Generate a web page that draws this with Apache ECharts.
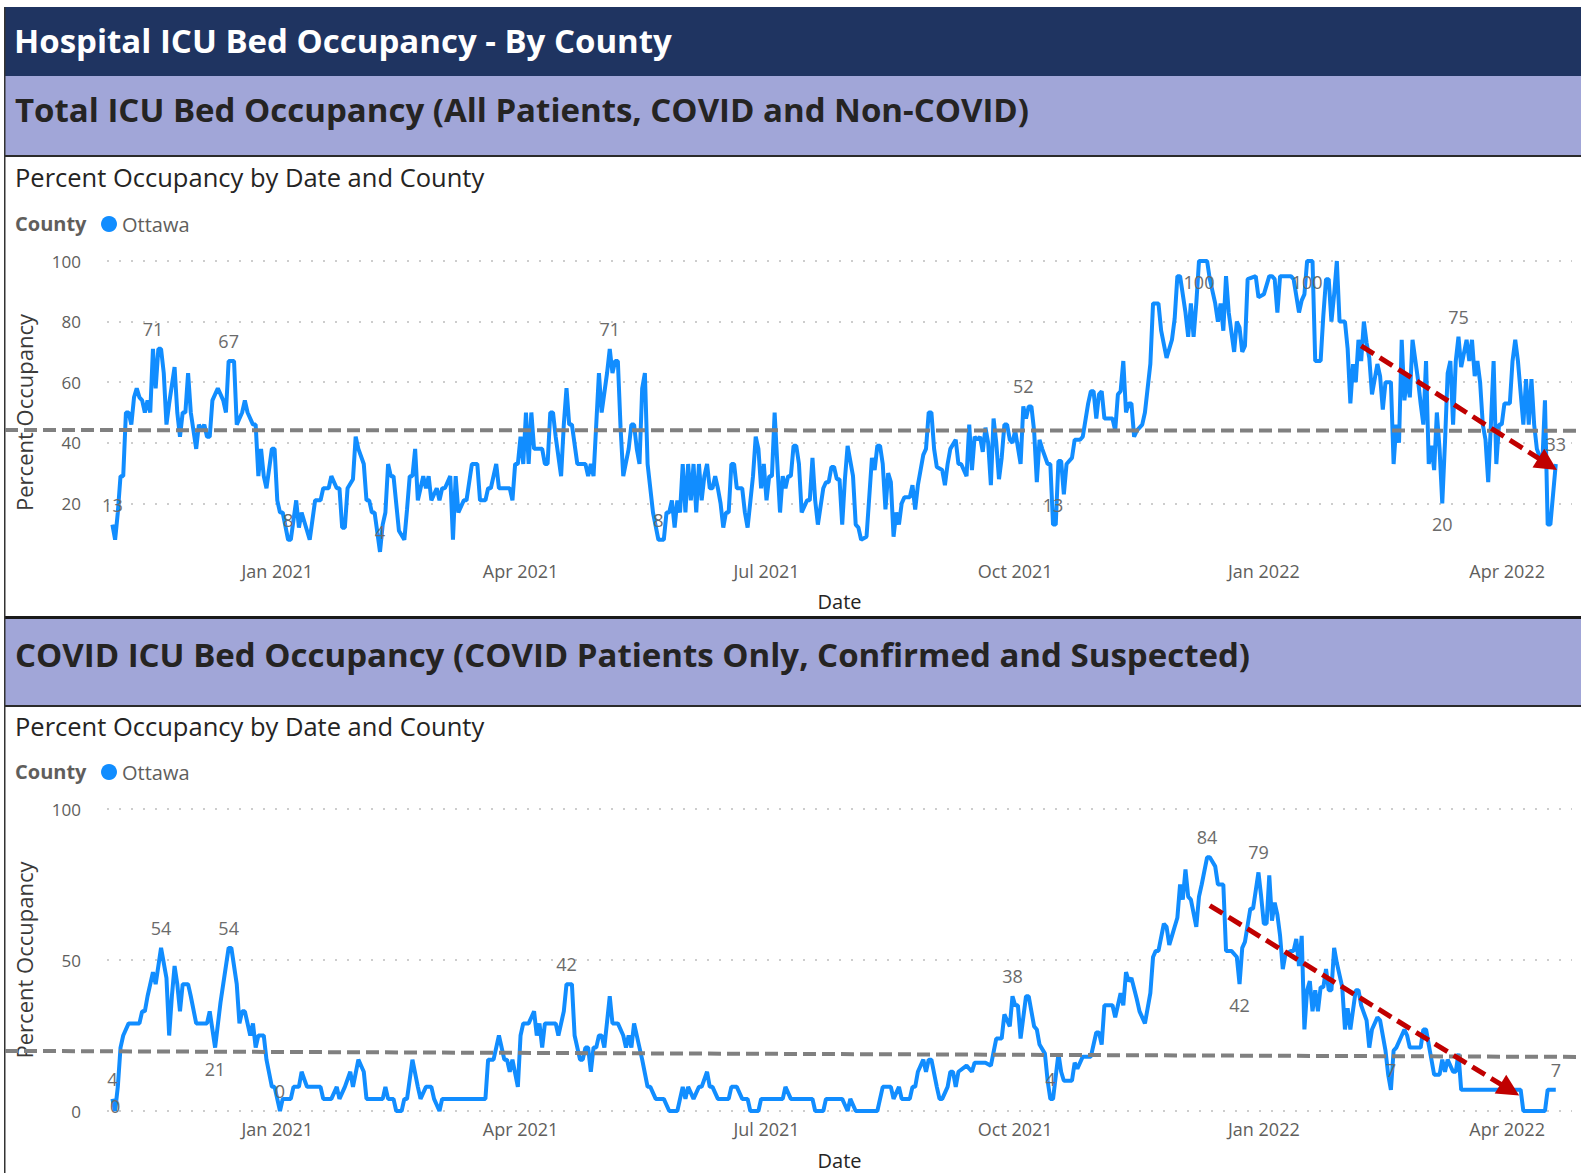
<!DOCTYPE html>
<html>
<head>
<meta charset="utf-8">
<title>Hospital ICU Bed Occupancy - By County</title>
<script src="https://cdn.jsdelivr.net/npm/echarts@6.0.0/dist/echarts.min.js"></script>
<style>
  html, body { margin: 0; padding: 0; background: #fff; }
  #chart { width: 1581px; height: 1173px; }
</style>
</head>
<body>
<div id="chart"></div>
<script>
// x axis: quarter ticks and visible range
const tickDates = ['2021-01-01', '2021-04-01', '2021-07-01', '2021-10-01', '2022-01-01', '2022-04-01'];
const tickLabels = ['Jan 2021', 'Apr 2021', 'Jul 2021', 'Oct 2021', 'Jan 2022', 'Apr 2022'];
const axisStart = '2020-10-30';
const axisEnd = '2022-04-25';

// Total ICU occupancy (%), Ottawa
const totalOccupancy = [
  ['2020-11-01',13],['2020-11-02',8],['2020-11-03',17],['2020-11-04',29],['2020-11-05',29],['2020-11-06',50],['2020-11-07',50],['2020-11-08',46],['2020-11-09',55],['2020-11-10',58],['2020-11-11',55],['2020-11-12',54],['2020-11-13',50],['2020-11-14',54],['2020-11-15',50],['2020-11-16',71],['2020-11-17',58],['2020-11-18',71],['2020-11-19',71],['2020-11-20',63],['2020-11-21',46],['2020-11-22',53],['2020-11-24',65],['2020-11-25',50],['2020-11-26',42],['2020-11-27',50],['2020-11-28',50],['2020-11-29',63],['2020-11-30',50],
  ['2020-12-02',38],['2020-12-03',46],['2020-12-04',44],['2020-12-05',46],['2020-12-06',42],['2020-12-07',42],['2020-12-08',54],['2020-12-10',58],['2020-12-12',54],['2020-12-13',50],['2020-12-14',67],['2020-12-16',67],['2020-12-17',46],['2020-12-19',50],['2020-12-20',54],['2020-12-21',50],['2020-12-23',46],['2020-12-24',46],['2020-12-25',29],['2020-12-26',38],['2020-12-27',29],['2020-12-28',25],['2020-12-30',38],['2020-12-31',38],
  ['2021-01-01',21],['2021-01-02',17],['2021-01-03',17],['2021-01-05',8],['2021-01-06',8],['2021-01-08',21],['2021-01-09',12],['2021-01-10',17],['2021-01-13',8],['2021-01-15',21],['2021-01-17',21],['2021-01-18',25],['2021-01-20',25],['2021-01-21',29],['2021-01-23',25],['2021-01-24',25],['2021-01-25',12],['2021-01-26',12],['2021-01-27',25],['2021-01-29',28],['2021-01-30',42],['2021-01-31',38],
  ['2021-02-02',33],['2021-02-03',21],['2021-02-04',21],['2021-02-05',17],['2021-02-06',17],['2021-02-08',4],['2021-02-09',13],['2021-02-10',17],['2021-02-11',33],['2021-02-12',29],['2021-02-13',29],['2021-02-15',11],['2021-02-17',8],['2021-02-18',18],['2021-02-19',29],['2021-02-20',29],['2021-02-21',38],['2021-02-22',21],['2021-02-23',25],['2021-02-24',29],['2021-02-25',25],['2021-02-26',29],['2021-02-27',21],
  ['2021-03-01',25],['2021-03-02',21],['2021-03-03',25],['2021-03-04',25],['2021-03-06',29],['2021-03-07',8],['2021-03-08',29],['2021-03-09',17],['2021-03-11',21],['2021-03-12',21],['2021-03-14',33],['2021-03-16',33],['2021-03-17',21],['2021-03-19',21],['2021-03-20',25],['2021-03-21',25],['2021-03-23',33],['2021-03-24',25],['2021-03-26',25],['2021-03-28',25],['2021-03-29',21],['2021-03-30',33],['2021-03-31',33],
  ['2021-04-01',42],['2021-04-02',33],['2021-04-03',50],['2021-04-04',33],['2021-04-05',50],['2021-04-06',38],['2021-04-07',38],['2021-04-09',38],['2021-04-10',33],['2021-04-11',33],['2021-04-12',50],['2021-04-13',50],['2021-04-14',42],['2021-04-16',29],['2021-04-17',46],['2021-04-18',58],['2021-04-19',46],['2021-04-20',46],['2021-04-22',33],['2021-04-25',33],['2021-04-26',29],['2021-04-27',33],['2021-04-28',29],['2021-04-30',63],
  ['2021-05-01',50],['2021-05-03',63],['2021-05-04',71],['2021-05-05',63],['2021-05-06',67],['2021-05-07',67],['2021-05-08',45],['2021-05-09',29],['2021-05-11',38],['2021-05-12',46],['2021-05-13',46],['2021-05-14',38],['2021-05-15',33],['2021-05-16',58],['2021-05-17',63],['2021-05-18',33],['2021-05-20',17],['2021-05-22',8],['2021-05-24',8],['2021-05-25',17],['2021-05-26',17],['2021-05-27',21],['2021-05-28',12],['2021-05-29',21],['2021-05-30',17],['2021-05-31',33],
  ['2021-06-01',17],['2021-06-02',33],['2021-06-03',21],['2021-06-04',33],['2021-06-05',17],['2021-06-06',33],['2021-06-07',21],['2021-06-08',29],['2021-06-09',33],['2021-06-10',25],['2021-06-11',25],['2021-06-12',29],['2021-06-13',25],['2021-06-14',20],['2021-06-15',12],['2021-06-16',17],['2021-06-17',17],['2021-06-18',33],['2021-06-19',33],['2021-06-20',25],['2021-06-22',25],['2021-06-23',17],['2021-06-24',12],['2021-06-26',29],['2021-06-27',42],['2021-06-28',38],['2021-06-29',25],['2021-06-30',33],
  ['2021-07-01',21],['2021-07-02',29],['2021-07-03',29],['2021-07-04',50],['2021-07-05',33],['2021-07-06',17],['2021-07-07',29],['2021-07-08',25],['2021-07-09',29],['2021-07-10',29],['2021-07-11',39],['2021-07-12',39],['2021-07-13',33],['2021-07-14',17],['2021-07-16',21],['2021-07-17',21],['2021-07-18',35],['2021-07-19',21],['2021-07-20',13],['2021-07-22',25],['2021-07-23',27],['2021-07-24',27],['2021-07-25',32],['2021-07-26',32],['2021-07-27',28],['2021-07-28',28],['2021-07-29',13],['2021-07-30',28],['2021-07-31',39],
  ['2021-08-02',29],['2021-08-03',13],['2021-08-04',12],['2021-08-05',8],['2021-08-07',9],['2021-08-08',22],['2021-08-09',35],['2021-08-10',31],['2021-08-11',39],['2021-08-12',39],['2021-08-13',33],['2021-08-14',18],['2021-08-15',30],['2021-08-16',27],['2021-08-17',9],['2021-08-18',17],['2021-08-19',13],['2021-08-20',20],['2021-08-21',22],['2021-08-23',22],['2021-08-24',26],['2021-08-25',18],['2021-08-26',26],['2021-08-28',36],['2021-08-29',38],['2021-08-30',50],['2021-08-31',50],
  ['2021-09-01',38],['2021-09-02',32],['2021-09-04',31],['2021-09-05',26],['2021-09-06',33],['2021-09-07',38],['2021-09-09',41],['2021-09-10',33],['2021-09-11',33],['2021-09-13',29],['2021-09-14',46],['2021-09-15',31],['2021-09-16',42],['2021-09-17',41],['2021-09-18',42],['2021-09-19',37],['2021-09-20',45],['2021-09-21',40],['2021-09-22',26],['2021-09-23',48],['2021-09-24',40],['2021-09-25',28],['2021-09-26',35],['2021-09-27',46],['2021-09-28',46],['2021-09-29',41],['2021-09-30',40],
  ['2021-10-01',44],['2021-10-03',33],['2021-10-04',52],['2021-10-05',48],['2021-10-06',52],['2021-10-07',52],['2021-10-08',44],['2021-10-09',27],['2021-10-10',41],['2021-10-11',38],['2021-10-13',33],['2021-10-14',33],['2021-10-15',13],['2021-10-16',13],['2021-10-17',34],['2021-10-18',34],['2021-10-19',23],['2021-10-20',33],['2021-10-22',35],['2021-10-23',41],['2021-10-25',41],['2021-10-26',42],['2021-10-28',53],['2021-10-29',57],['2021-10-30',57],['2021-10-31',48],
  ['2021-11-01',56],['2021-11-02',57],['2021-11-03',48],['2021-11-05',48],['2021-11-06',48],['2021-11-07',44],['2021-11-08',56],['2021-11-09',57],['2021-11-10',67],['2021-11-11',50],['2021-11-12',53],['2021-11-13',53],['2021-11-14',42],['2021-11-15',44],['2021-11-17',46],['2021-11-18',50],['2021-11-20',66],['2021-11-21',86],['2021-11-23',86],['2021-11-24',77],['2021-11-26',68],['2021-11-28',74],['2021-11-29',81],['2021-11-30',95],
  ['2021-12-01',95],['2021-12-03',83],['2021-12-04',75],['2021-12-05',86],['2021-12-06',75],['2021-12-07',86],['2021-12-08',100],['2021-12-11',100],['2021-12-12',94],['2021-12-14',86],['2021-12-15',80],['2021-12-16',86],['2021-12-17',77],['2021-12-18',95],['2021-12-19',83],['2021-12-21',70],['2021-12-22',80],['2021-12-23',78],['2021-12-24',70],['2021-12-25',72],['2021-12-26',94],['2021-12-29',95],['2021-12-30',88],
  ['2022-01-01',89],['2022-01-03',95],['2022-01-04',95],['2022-01-05',94],['2022-01-06',83],['2022-01-07',95],['2022-01-08',95],['2022-01-11',95],['2022-01-12',94],['2022-01-14',83],['2022-01-15',87],['2022-01-16',89],['2022-01-17',100],['2022-01-19',100],['2022-01-20',67],['2022-01-22',67],['2022-01-23',82],['2022-01-24',94],['2022-01-25',94],['2022-01-26',80],['2022-01-27',89],['2022-01-28',100],['2022-01-29',80],['2022-01-31',80],
  ['2022-02-01',71],['2022-02-02',53],['2022-02-03',66],['2022-02-04',60],['2022-02-05',74],['2022-02-06',67],['2022-02-07',80],['2022-02-08',73],['2022-02-09',68],['2022-02-10',56],['2022-02-12',66],['2022-02-13',62],['2022-02-14',51],['2022-02-15',60],['2022-02-17',60],['2022-02-18',33],['2022-02-19',46],['2022-02-20',40],['2022-02-21',74],['2022-02-22',54],['2022-02-23',62],['2022-02-24',55],['2022-02-25',74],['2022-02-27',61],['2022-02-28',53],
  ['2022-03-01',46],['2022-03-02',67],['2022-03-03',33],['2022-03-04',39],['2022-03-05',31],['2022-03-06',50],['2022-03-07',38],['2022-03-08',20],['2022-03-09',40],['2022-03-10',63],['2022-03-11',67],['2022-03-12',46],['2022-03-13',67],['2022-03-14',75],['2022-03-15',65],['2022-03-17',74],['2022-03-18',67],['2022-03-19',74],['2022-03-20',62],['2022-03-21',67],['2022-03-22',60],['2022-03-23',46],['2022-03-24',41],['2022-03-25',27],['2022-03-26',46],['2022-03-27',67],['2022-03-28',33],['2022-03-29',46],['2022-03-30',46],['2022-03-31',53],
  ['2022-04-02',53],['2022-04-03',67],['2022-04-04',74],['2022-04-05',67],['2022-04-07',46],['2022-04-08',61],['2022-04-09',46],['2022-04-10',61],['2022-04-11',46],['2022-04-12',38],['2022-04-14',33],['2022-04-15',54],['2022-04-16',13],['2022-04-17',13],['2022-04-19',33]
];

// COVID ICU occupancy (%), Ottawa
const covidOccupancy = [
  ['2020-11-01',4],['2020-11-02',0],['2020-11-03',8],['2020-11-04',21],['2020-11-05',25],['2020-11-07',29],['2020-11-11',29],['2020-11-12',33],['2020-11-13',33],['2020-11-14',38],['2020-11-16',46],['2020-11-17',42],['2020-11-19',54],['2020-11-21',44],['2020-11-22',25],['2020-11-23',38],['2020-11-24',48],['2020-11-25',42],['2020-11-26',33],['2020-11-27',42],['2020-11-29',42],['2020-11-30',38],
  ['2020-12-02',29],['2020-12-06',29],['2020-12-07',33],['2020-12-09',21],['2020-12-11',36],['2020-12-12',42],['2020-12-14',54],['2020-12-15',54],['2020-12-17',42],['2020-12-18',29],['2020-12-19',33],['2020-12-20',33],['2020-12-22',25],['2020-12-23',29],['2020-12-24',21],['2020-12-25',25],['2020-12-27',25],['2020-12-28',17],['2020-12-30',8],['2020-12-31',8],
  ['2021-01-02',0],['2021-01-03',4],['2021-01-06',4],['2021-01-07',8],['2021-01-09',8],['2021-01-10',13],['2021-01-12',8],['2021-01-17',8],['2021-01-18',4],['2021-01-21',4],['2021-01-23',8],['2021-01-24',4],['2021-01-26',8],['2021-01-28',13],['2021-01-29',8],['2021-01-31',17],
  ['2021-02-02',13],['2021-02-03',4],['2021-02-09',4],['2021-02-10',8],['2021-02-11',4],['2021-02-13',4],['2021-02-14',0],['2021-02-16',0],['2021-02-17',4],['2021-02-18',4],['2021-02-20',17],['2021-02-22',8],['2021-02-23',4],['2021-02-25',8],['2021-02-27',8],['2021-02-28',4],
  ['2021-03-02',0],['2021-03-03',4],['2021-03-19',4],['2021-03-20',17],['2021-03-22',17],['2021-03-23',21],['2021-03-24',25],['2021-03-26',17],['2021-03-27',17],['2021-03-28',13],['2021-03-29',17],['2021-03-31',8],
  ['2021-04-01',25],['2021-04-02',29],['2021-04-04',29],['2021-04-06',33],['2021-04-07',25],['2021-04-08',29],['2021-04-09',21],['2021-04-10',29],['2021-04-14',29],['2021-04-15',25],['2021-04-17',33],['2021-04-18',42],['2021-04-20',42],['2021-04-21',25],['2021-04-23',17],['2021-04-24',17],['2021-04-25',21],['2021-04-26',21],['2021-04-27',13],['2021-04-28',21],['2021-04-29',21],['2021-04-30',25],
  ['2021-05-01',25],['2021-05-02',21],['2021-05-04',38],['2021-05-05',29],['2021-05-07',29],['2021-05-09',25],['2021-05-10',21],['2021-05-11',25],['2021-05-12',21],['2021-05-13',29],['2021-05-15',21],['2021-05-16',17],['2021-05-18',8],['2021-05-19',8],['2021-05-21',4],['2021-05-24',4],['2021-05-26',0],['2021-05-29',0],['2021-05-30',4],['2021-05-31',8],
  ['2021-06-01',4],['2021-06-02',8],['2021-06-04',4],['2021-06-06',8],['2021-06-07',8],['2021-06-09',13],['2021-06-10',8],['2021-06-11',8],['2021-06-13',4],['2021-06-17',4],['2021-06-18',8],['2021-06-20',8],['2021-06-22',4],['2021-06-24',4],['2021-06-25',0],['2021-06-28',0],['2021-06-29',4],
  ['2021-07-07',4],['2021-07-08',8],['2021-07-10',4],['2021-07-18',4],['2021-07-19',0],['2021-07-22',0],['2021-07-23',4],['2021-07-29',4],['2021-07-31',0],
  ['2021-08-01',4],['2021-08-03',0],['2021-08-11',0],['2021-08-13',8],['2021-08-16',8],['2021-08-17',4],['2021-08-19',8],['2021-08-20',4],['2021-08-23',4],['2021-08-24',8],['2021-08-25',8],['2021-08-26',13],['2021-08-28',17],['2021-08-29',13],['2021-08-30',17],['2021-08-31',17],
  ['2021-09-02',8],['2021-09-03',4],['2021-09-04',4],['2021-09-06',8],['2021-09-07',13],['2021-09-08',13],['2021-09-09',8],['2021-09-10',13],['2021-09-13',15],['2021-09-15',13],['2021-09-16',16],['2021-09-18',16],['2021-09-20',16],['2021-09-22',15],['2021-09-24',24],['2021-09-26',24],['2021-09-27',32],['2021-09-29',28],['2021-09-30',38],
  ['2021-10-01',35],['2021-10-02',35],['2021-10-03',24],['2021-10-05',38],['2021-10-06',38],['2021-10-08',28],['2021-10-09',27],['2021-10-10',22],['2021-10-12',19],['2021-10-13',10],['2021-10-14',4],['2021-10-15',4],['2021-10-17',19],['2021-10-18',13],['2021-10-19',10],['2021-10-22',10],['2021-10-23',16],['2021-10-24',14],['2021-10-26',18],['2021-10-28',18],['2021-10-29',18],['2021-10-30',22],['2021-10-31',26],
  ['2021-11-01',26],['2021-11-02',22],['2021-11-03',35],['2021-11-05',35],['2021-11-06',35],['2021-11-07',31],['2021-11-08',35],['2021-11-09',39],['2021-11-10',35],['2021-11-11',46],['2021-11-12',43],['2021-11-13',44],['2021-11-15',37],['2021-11-16',33],['2021-11-17',31],['2021-11-18',29],['2021-11-20',39],['2021-11-21',51],['2021-11-22',53],['2021-11-23',53],['2021-11-25',62],['2021-11-26',61],['2021-11-27',55],['2021-11-28',58],['2021-11-29',61],['2021-11-30',64],
  ['2021-12-01',75],['2021-12-02',70],['2021-12-03',80],['2021-12-04',71],['2021-12-05',70],['2021-12-07',61],['2021-12-08',71],['2021-12-09',75],['2021-12-11',84],['2021-12-12',84],['2021-12-14',81],['2021-12-15',75],['2021-12-17',75],['2021-12-18',53],['2021-12-20',53],['2021-12-22',51],['2021-12-23',42],['2021-12-24',54],['2021-12-25',56],['2021-12-27',67],['2021-12-28',67],['2021-12-29',73],['2021-12-30',79],['2021-12-31',71],
  ['2022-01-01',62],['2022-01-02',62],['2022-01-03',78],['2022-01-04',63],['2022-01-05',69],['2022-01-06',65],['2022-01-07',58],['2022-01-08',47],['2022-01-09',52],['2022-01-11',53],['2022-01-12',53],['2022-01-13',57],['2022-01-14',48],['2022-01-15',58],['2022-01-16',27],['2022-01-17',40],['2022-01-18',43],['2022-01-19',33],['2022-01-20',40],['2022-01-21',33],['2022-01-22',41],['2022-01-23',41],['2022-01-24',47],['2022-01-25',40],['2022-01-26',40],['2022-01-27',54],['2022-01-28',49],['2022-01-30',41],['2022-01-31',27],
  ['2022-02-01',34],['2022-02-02',27],['2022-02-04',40],['2022-02-05',40],['2022-02-06',35],['2022-02-08',30],['2022-02-09',21],['2022-02-10',27],['2022-02-12',31],['2022-02-13',30],['2022-02-15',20],['2022-02-16',12],['2022-02-17',7],['2022-02-18',20],['2022-02-19',21],['2022-02-21',25],['2022-02-22',27],['2022-02-23',25],['2022-02-24',21],['2022-02-26',21],['2022-02-28',21],
  ['2022-03-01',27],['2022-03-02',27],['2022-03-03',22],['2022-03-05',12],['2022-03-07',12],['2022-03-08',17],['2022-03-09',13],['2022-03-10',17],['2022-03-12',13],['2022-03-13',13],['2022-03-14',19],['2022-03-15',7],
  ['2022-04-06',7],['2022-04-07',0],['2022-04-15',0],['2022-04-16',7],['2022-04-19',7]
];

// dates whose values carry a data label
const totalLabelDates = ['2020-11-01', '2020-11-16', '2020-12-14', '2021-01-05', '2021-02-08', '2021-05-04', '2021-05-22',
  '2021-10-04', '2021-10-15', '2021-12-08', '2022-01-17', '2022-03-08', '2022-03-14', '2022-04-19'];
const covidLabelDates = ['2020-11-01', '2020-11-02', '2020-11-19', '2020-12-09', '2020-12-14', '2021-01-02', '2021-04-18',
  '2021-09-30', '2021-10-14', '2021-12-11', '2021-12-23', '2021-12-30', '2022-02-17', '2022-04-19'];

// annotations: dashed reference line (value at left and right edge) and red trend arrows
const totalRefLine = [44.2, 44.0];
const covidRefLine = [19.9, 17.9];
const totalTrendArrow = [['2022-02-06', 72], ['2022-04-16', 33]];
const covidTrendArrow = [['2021-12-12', 68], ['2022-04-02', 7]];

const FONT = "'Segoe UI', 'Open Sans', sans-serif";
const BLUE = '#118DFF';
const NAVY = '#1F3461';
const LAVENDER = '#A1A6D8';

// dates become local-midnight timestamps on a numeric axis
const ts = (s) => {
  const [y, m, d] = s.split('-').map(Number);
  return new Date(y, m - 1, d).getTime();
};

const tickText = {};
tickDates.forEach((d, i) => { tickText[ts(d)] = tickLabels[i]; });

// label placement: below for peaks at the top, on the point for the first zero
const labelPlace = {
  total: { '2021-12-08': 'bottom', '2022-01-17': 'bottom', '2022-03-08': 'bottom' },
  covid: { '2020-11-02': 'inside', '2020-12-09': 'bottom', '2021-12-23': 'bottom' }
};

const buildMarkPoints = (series, dates, place) => {
  const lookup = new Map(series);
  return dates.map((d) => ({
    coord: [ts(d), lookup.get(d)],
    value: lookup.get(d),
    label: place[d] === 'bottom' ? { position: 'bottom', distance: 12 }
         : place[d] === 'inside' ? { position: 'inside', offset: [0, -5] }
         : { position: 'top', distance: 11 }
  }));
};

const xAxisFor = (gridIndex, margin, nameGap) => ({
  type: 'value',
  gridIndex,
  min: ts(axisStart),
  max: ts(axisEnd),
  axisLine: { show: false },
  axisTick: { show: false },
  splitLine: { show: false },
  axisLabel: {
    customValues: tickDates.map(ts),
    formatter: (v) => tickText[v] || '',
    color: '#605E5C',
    fontSize: 18,
    fontFamily: FONT,
    margin
  },
  name: 'Date',
  nameLocation: 'middle',
  nameGap,
  nameTextStyle: { color: '#252423', fontSize: 20, fontFamily: FONT }
});

const yAxisFor = (gridIndex, interval, showMin) => ({
  type: 'value',
  gridIndex,
  min: 0,
  max: 100,
  interval,
  axisLine: { show: false },
  axisTick: { show: false },
  axisLabel: { showMinLabel: showMin, color: '#605E5C', fontSize: 17, fontFamily: FONT, margin: 26 },
  splitLine: {
    show: true,
    showMinLine: showMin,
    lineStyle: { type: [2, 10], color: '#BDBDBD', width: 1.5 }
  },
  name: 'Percent Occupancy',
  nameLocation: 'middle',
  nameRotate: 90,
  nameGap: 72,
  nameTextStyle: { color: '#3B3A39', fontSize: 22, fontFamily: FONT }
});

const lineSeries = (idx, data, labelDates, place, arrow) => ({
  name: 'Ottawa',
  type: 'line',
  xAxisIndex: idx,
  yAxisIndex: idx,
  data: data.map(([d, v]) => [ts(d), v]),
  showSymbol: false,
  symbol: 'none',
  lineStyle: { width: 4, color: BLUE },
  itemStyle: { color: BLUE },
  markPoint: {
    symbol: 'circle',
    symbolSize: 0,
    silent: true,
    label: { show: true, formatter: '{c}', color: '#6B6B6B', fontSize: 18, fontFamily: FONT },
    data: buildMarkPoints(data, labelDates, place)
  },
  markLine: {
    silent: true,
    z: 20,
    symbol: ['none', 'triangle'],
    symbolSize: 22,
    label: { show: false },
    lineStyle: { color: '#C00000', width: 5, type: [15, 7] },
    data: [[
      { coord: [ts(arrow[0][0]), arrow[0][1]] },
      { coord: [ts(arrow[1][0]), arrow[1][1]] }
    ]]
  }
});

const text = (id, x, y, str, font, fill) => ({
  id, type: 'text', x, y, z: 5,
  style: { text: str, font, fill, verticalAlign: 'middle' }
});

const frameGraphics = [
  { id: 'hdr', type: 'rect', shape: { x: 5, y: 7, width: 1576, height: 69 }, style: { fill: NAVY } },
  text('hdrText', 14, 40, 'Hospital ICU Bed Occupancy - By County', `bold 33px ${FONT}`, '#FFFFFF'),
  { id: 'sec1', type: 'rect', shape: { x: 5, y: 76, width: 1576, height: 80 }, style: { fill: LAVENDER } },
  { id: 'sec1Line', type: 'rect', shape: { x: 5, y: 155, width: 1576, height: 2 }, style: { fill: '#2B2B2B' } },
  text('sec1Text', 15, 109, 'Total ICU Bed Occupancy (All Patients, COVID and Non-COVID)', `bold 33px ${FONT}`, '#252423'),
  text('p1Title', 15, 177, 'Percent Occupancy by Date and County', `25.5px ${FONT}`, '#252423'),
  text('lg1Title', 15, 223, 'County', `bold 20px ${FONT}`, '#605E5C'),
  { id: 'sepLine', type: 'rect', shape: { x: 5, y: 616, width: 1576, height: 3 }, style: { fill: '#1A1A1A' } },
  { id: 'sec2', type: 'rect', shape: { x: 5, y: 619, width: 1576, height: 86 }, style: { fill: LAVENDER } },
  { id: 'sec2Line', type: 'rect', shape: { x: 5, y: 705, width: 1576, height: 2 }, style: { fill: '#2B2B2B' } },
  text('sec2Text', 15, 654, 'COVID ICU Bed Occupancy (COVID Patients Only, Confirmed and Suspected)', `bold 33px ${FONT}`, '#252423'),
  text('p2Title', 15, 726, 'Percent Occupancy by Date and County', `25.5px ${FONT}`, '#252423'),
  text('lg2Title', 15, 771, 'County', `bold 20px ${FONT}`, '#605E5C'),
  { id: 'leftBorder', type: 'rect', z: 6, shape: { x: 4, y: 7, width: 1.5, height: 1166 }, style: { fill: '#333333' } }
];

const chart = echarts.init(document.getElementById('chart'), null, { renderer: 'svg' });

chart.setOption({
  animation: false,
  backgroundColor: '#FFFFFF',
  textStyle: { fontFamily: FONT },
  grid: [
    { left: 107, right: 9, top: 261, height: 303, outerBoundsMode: 'none' },
    { left: 107, right: 9, top: 809, height: 302, outerBoundsMode: 'none' }
  ],
  legend: [
    { data: ['Ottawa'], left: 96, top: 209, icon: 'circle', itemWidth: 16, itemHeight: 16, selectedMode: false,
      textStyle: { color: '#605E5C', fontSize: 20, fontFamily: FONT } },
    { data: ['Ottawa'], left: 96, top: 757, icon: 'circle', itemWidth: 16, itemHeight: 16, selectedMode: false,
      textStyle: { color: '#605E5C', fontSize: 20, fontFamily: FONT } }
  ],
  xAxis: [xAxisFor(0, -2, 27), xAxisFor(1, 9, 39)],
  yAxis: [yAxisFor(0, 20, false), yAxisFor(1, 50, true)],
  series: [
    lineSeries(0, totalOccupancy, totalLabelDates, labelPlace.total, totalTrendArrow),
    lineSeries(1, covidOccupancy, covidLabelDates, labelPlace.covid, covidTrendArrow)
  ],
  graphic: { elements: frameGraphics }
});

// dashed reference lines run across the whole panel, placed through the y scales
const refLine = (id, axis, vals) => ({
  id, type: 'line', z: 10, silent: true,
  shape: {
    x1: 5, y1: chart.convertToPixel({ yAxisIndex: axis }, vals[0]),
    x2: 1581, y2: chart.convertToPixel({ yAxisIndex: axis }, vals[1])
  },
  style: { stroke: '#808080', lineWidth: 4, lineDash: [13, 6] }
});

chart.setOption({
  graphic: { elements: [refLine('ref1', 0, totalRefLine), refLine('ref2', 1, covidRefLine)] }
});
</script>
</body>
</html>
